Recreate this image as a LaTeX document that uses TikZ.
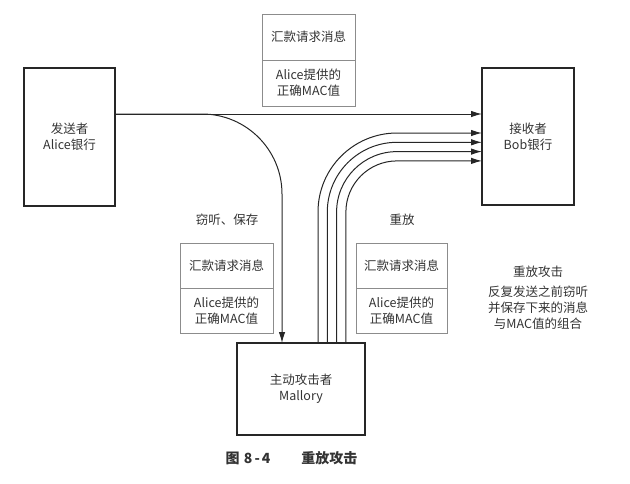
\documentclass[tikz,border=0pt]{standalone}
\usepackage{fontspec}
\setmainfont{Noto Sans CJK SC}
\usetikzlibrary{positioning,arrows.meta}

\begin{document}
\begin{tikzpicture}[
  x=1pt,
  y=-1pt,
  font=\fontsize{12.5}{16}\selectfont,
  text=black!80,
  party/.style={draw=black!85, line width=1.1pt, outer sep=0pt, align=center},
  msgtop/.style={draw=black!45, line width=0.7pt, outer sep=0pt, minimum width=93, minimum height=46},
  msgbot/.style={msgtop, align=center},
  arr/.style={draw=black!85, line width=1pt, -{Latex[length=11pt,width=6.5pt]}},
  note/.style={align=center},
]
  \useasboundingbox (0,0) rectangle (630,483);

  % parties
  \node[party, minimum width=91, minimum height=138] (alice) at (69.5,137) {发送者\\Alice银行};
  \node[party, minimum width=92, minimum height=137] (bob) at (528,136.5) {接收者\\Bob银行};
  \node[party, minimum width=128, minimum height=92] (mallory) at (301,389) {主动攻击者\\Mallory};

  % messages
  \node[msgtop] (msgA) at (308.5,37) {汇款请求消息};
  \node[msgbot, below=0pt of msgA] (macA) {Alice提供的\\正确MAC值};
  \node[msgtop, minimum height=45] (msgB) at (226.5,265.5) {汇款请求消息};
  \node[msgbot, minimum height=45, below=0pt of msgB] (macB) {Alice提供的\\正确MAC值};
  \node[msgtop, minimum width=91, minimum height=45] (msgC) at (401.5,265.5) {汇款请求消息};
  \node[msgbot, minimum width=91, minimum height=45, below=0pt of msgC] (macC) {Alice提供的\\正确MAC值};

  % normal and eavesdropped transmission
  \coordinate (send) at (alice.east |- 0,114);
  \draw[arr] (send) -- (bob.west |- send);
  \draw[arr, rounded corners=80pt] (send) -| (mallory.north -| 282,0);

  % replays
  \foreach \i in {0,...,3} {
    \draw[arr, rounded corners={(79-9.3*\i)*1pt}]
      (mallory.north -| 318+9.3*\i,0) |- (bob.west |- 0,133+9.3*\i);
  }

  % labels
  \node (eaves) at (227,220) {窃听、保存};
  \node (replay) at (402,220) {重放};
  \node[note] (title) at (538,272) {重放攻击};
  \node[note, below=1pt of title] (desc) {反复发送之前窃听\\并保存下来的消息\\与MAC值的组合};
  \node[font=\fontsize{14}{16}\selectfont\bfseries] (caption) at (291.5,458)
    {图\hspace{0.3em}8\hspace{0.15em}-\hspace{0.15em}4\hspace{2.2em}重放攻击};
\end{tikzpicture}
\end{document}
